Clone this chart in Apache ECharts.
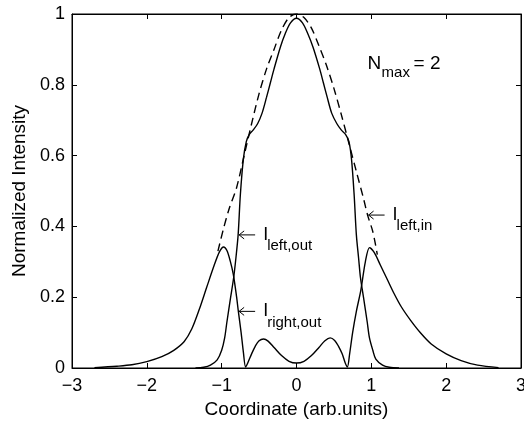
<!DOCTYPE html>
<html>
<head>
<meta charset="utf-8">
<script src="https://cdn.jsdelivr.net/npm/echarts@6/dist/echarts.min.js"></script>
<style>html,body{margin:0;padding:0;background:#fff;overflow:hidden;}#c{width:524px;height:422px;}</style>
</head>
<body>
<div id="c"></div>
<script>
// x-axis ticks
var xTicks = [-3, -2, -1, 0, 1, 2, 3];
var yTicks = [0, 0.2, 0.4, 0.6, 0.8, 1];

// Outer lobes curve (solid)
var sideX = [-2.7,-2.4,-2.2,-2.0,-1.8,-1.64,-1.5,-1.4,-1.3,-1.2,-1.1,-1.03,-0.975,-0.93,-0.885,-0.845,-0.8,-0.78,-0.74,-0.71,-0.68,-0.65,-0.6,-0.55,-0.5,-0.44,-0.38,-0.3,-0.2,-0.1,0,0.1,0.2,0.3,0.38,0.45,0.51,0.56,0.61,0.65,0.68,0.71,0.75,0.8,0.86,0.92,0.976,1.04,1.12,1.22,1.3,1.4,1.52,1.65,1.8,2.0,2.2,2.42,2.7];
var sideY = [0.001,0.005,0.009,0.018,0.032,0.05,0.075,0.11,0.165,0.228,0.29,0.328,0.342,0.332,0.302,0.265,0.2,0.165,0.1,0.045,0.003,0.015,0.04,0.062,0.077,0.082,0.076,0.058,0.035,0.019,0.014,0.019,0.035,0.058,0.077,0.085,0.078,0.062,0.04,0.015,0.003,0.04,0.1,0.16,0.22,0.3,0.34,0.326,0.291,0.247,0.212,0.173,0.136,0.101,0.068,0.04,0.021,0.008,0.001];

// Central curve (solid)
var centX = [-1.35,-1.24,-1.15,-1.06,-1.0,-0.96,-0.93,-0.88,-0.84,-0.81,-0.78,-0.75,-0.71,-0.67,-0.63,-0.58,-0.52,-0.46,-0.4,-0.35,-0.3,-0.215,-0.15,-0.08,0,0.08,0.15,0.22,0.31,0.36,0.41,0.47,0.54,0.6,0.655,0.7,0.735,0.77,0.8,0.83,0.855,0.895,0.945,0.975,1.02,1.06,1.15,1.24,1.37];
var centY = [0,0.002,0.008,0.023,0.05,0.085,0.13,0.2,0.255,0.31,0.376,0.49,0.59,0.64,0.66,0.672,0.69,0.72,0.765,0.805,0.845,0.907,0.945,0.975,0.988,0.975,0.945,0.907,0.845,0.805,0.765,0.72,0.69,0.672,0.66,0.64,0.59,0.49,0.376,0.31,0.255,0.2,0.13,0.085,0.05,0.025,0.008,0.002,0];

// Envelope (dashed)
var dashX = [-1.05,-0.98,-0.9,-0.8,-0.7,-0.6,-0.5,-0.4,-0.3,-0.2,-0.1,0,0.1,0.2,0.3,0.4,0.5,0.6,0.7,0.8,0.9,0.95,1.02,1.08];
var dashY = [0.33,0.39,0.45,0.51,0.6,0.69,0.775,0.845,0.9,0.955,0.99,1.0,0.99,0.96,0.91,0.855,0.79,0.715,0.635,0.555,0.475,0.432,0.385,0.32];

// Annotation labels: subscript text and arrow tip in data coordinates
var annoSubs = ['left,out', 'right,out', 'left,in'];
var annoTips = [[-0.78, 0.376], [-0.78, 0.16], [0.95, 0.432]];
var nmaxAnchor = [0.95, 0.86];

var FONT = 'Liberation Sans, Arial, Helvetica, sans-serif';

function pairs(xs, ys) { return xs.map(function (x, i) { return [x, ys[i]]; }); }
function minusFmt(v) { return String(v).replace('-', '\u2212'); }

var chart = echarts.init(document.getElementById('c'), null, {renderer: 'canvas'});

var lineBase = {type: 'line', showSymbol: false, symbol: 'none', smooth: 0.3, animation: false,
  xAxisIndex: 0, yAxisIndex: 0};

function boxAxis(extra) {
  return Object.assign({
    type: 'value',
    axisLine: {show: true, onZero: false, lineStyle: {color: '#000', width: 1}},
    axisTick: {show: true, inside: true, length: 5, lineStyle: {color: '#000'}},
    splitLine: {show: false}
  }, extra);
}

var option = {
  animation: false,
  backgroundColor: '#fff',
  grid: {left: 72, right: 3, top: 14, bottom: 54, containLabel: false, outerBoundsMode: 'none',
    show: true, borderColor: '#000', borderWidth: 1, backgroundColor: 'transparent'},
  xAxis: [
    boxAxis({min: -3, max: 3, interval: 1, position: 'bottom',
      name: 'Coordinate (arb.units)', nameLocation: 'middle', nameGap: 18,
      nameTextStyle: {color: '#000', fontSize: 19, fontFamily: FONT},
      axisLabel: {color: '#000', fontSize: 18, fontFamily: FONT, margin: 9, formatter: minusFmt}}),
    boxAxis({min: -3, max: 3, interval: 1, position: 'top', axisLabel: {show: false}})
  ],
  yAxis: [
    boxAxis({min: 0, max: 1, interval: 0.2, position: 'left',
      name: 'Normalized Intensity', nameLocation: 'middle', nameGap: 41, nameRotate: 90,
      nameTextStyle: {color: '#000', fontSize: 19, fontFamily: FONT},
      axisLabel: {color: '#000', fontSize: 18, fontFamily: FONT, margin: 7}}),
    boxAxis({min: 0, max: 1, interval: 0.2, position: 'right', axisLabel: {show: false}})
  ],
  series: [
    Object.assign({}, lineBase, {name: 'envelope', data: pairs(dashX, dashY),
      lineStyle: {color: '#000', width: 1.4, type: [8, 5]}}),
    Object.assign({}, lineBase, {name: 'side', data: pairs(sideX, sideY),
      lineStyle: {color: '#000', width: 1.4}}),
    Object.assign({}, lineBase, {name: 'central', data: pairs(centX, centY),
      lineStyle: {color: '#000', width: 1.4}})
  ]
};
chart.setOption(option);

function txt(x, y, s, size) {
  return {type: 'text', x: x, y: y, silent: true, z: 10,
    style: {text: s, fill: '#000', fontSize: size, fontFamily: FONT,
      align: 'left', verticalAlign: 'middle', textAlign: 'left', textVerticalAlign: 'middle'}};
}

var graphics = [];
annoTips.forEach(function (tip, i) {
  var p = chart.convertToPixel({gridIndex: 0}, tip);
  var len = 17;
  graphics.push({type: 'line', silent: true, z: 10,
    shape: {x1: p[0] + 1, y1: p[1], x2: p[0] + len, y2: p[1]},
    style: {stroke: '#000', lineWidth: 1}});
  graphics.push({type: 'polyline', silent: true, z: 10,
    shape: {points: [[p[0] + 6, p[1] - 4], [p[0] + 1, p[1]], [p[0] + 6, p[1] + 4]]},
    style: {stroke: '#000', lineWidth: 1, fill: null}});
  graphics.push(txt(p[0] + len + 8, p[1], 'I', 18));
  graphics.push(txt(p[0] + len + 12, p[1] + 11, annoSubs[i], 15));
});
var n = chart.convertToPixel({gridIndex: 0}, nmaxAnchor);
graphics.push(txt(n[0], n[1], 'N', 19));
graphics.push(txt(n[0] + 14, n[1] + 9, 'max', 15));
graphics.push(txt(n[0] + 46, n[1], '= 2', 19));
chart.setOption({graphic: graphics});
</script>
</body>
</html>
